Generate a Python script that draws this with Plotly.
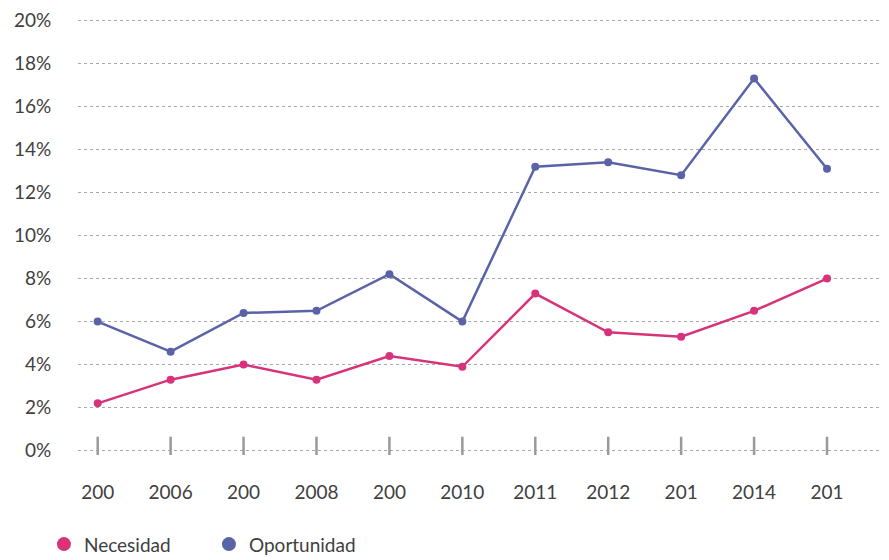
import plotly.graph_objects as go

years = [2005, 2006, 2007, 2008, 2009, 2010, 2011, 2012, 2013, 2014, 2015]
tick_labels = ["200", "2006", "200", "2008", "200", "2010", "2011", "2012", "201", "2014", "201"]
necesidad = [2.2, 3.3, 4.0, 3.3, 4.4, 3.9, 7.3, 5.5, 5.3, 6.5, 8.0]
oportunidad = [6.0, 4.6, 6.4, 6.5, 8.2, 6.0, 13.2, 13.4, 12.8, 17.3, 13.1]
y_ticks = [0, 2, 4, 6, 8, 10, 12, 14, 16, 18, 20]
y_tick_labels = [f"{v}%" for v in y_ticks]

PINK = "#d8337a"
BLUE = "#5a63a8"
GRID = "#a8a8a8"
TEXT = "#404040"

xs = list(range(len(years)))

fig = go.Figure()
# tick marks crossing the zero line
fig.add_trace(go.Scatter(
    x=xs, y=[0] * len(xs), mode="markers", showlegend=False, hoverinfo="skip",
    marker=dict(symbol="line-ns", size=20, line=dict(color="#9a9a9a", width=2.5)),
))
fig.add_trace(go.Scatter(
    x=xs, y=oportunidad, mode="lines+markers", showlegend=False,
    line=dict(color=BLUE, width=2.5), marker=dict(color=BLUE, size=8),
))
fig.add_trace(go.Scatter(
    x=xs, y=necesidad, mode="lines+markers", showlegend=False,
    line=dict(color=PINK, width=2.5), marker=dict(color=PINK, size=8),
))
# legend-only entries
fig.add_trace(go.Scatter(x=[None], y=[None], mode="markers", name="Necesidad",
                         marker=dict(color=PINK, size=14)))
fig.add_trace(go.Scatter(x=[None], y=[None], mode="markers", name="Oportunidad",
                         marker=dict(color=BLUE, size=14)))

fig.update_layout(
    width=881, height=552,
    margin=dict(l=70, r=0, t=8, b=105, autoexpand=False),
    paper_bgcolor="white", plot_bgcolor="white",
    font=dict(family="Lato, Open Sans, sans-serif", size=19, color=TEXT),
    showlegend=True,
    legend=dict(orientation="h", x=-0.042, xanchor="left", y=-0.16, yanchor="top",
                font=dict(size=19, color=TEXT), itemwidth=30,
                entrywidth=120, entrywidthmode="pixels"),
    xaxis=dict(
        range=[-0.27, 10.85], tickmode="array", tickvals=xs, ticktext=tick_labels,
        showgrid=False, zeroline=False, showline=False, automargin=False,
        ticks="outside", ticklen=20, tickcolor="rgba(0,0,0,0)",
        ticklabeloverflow="allow",
    ),
    yaxis=dict(
        range=[-0.2, 20.2], tickmode="array", tickvals=y_ticks, ticktext=y_tick_labels,
        showgrid=True, gridcolor=GRID, gridwidth=1.3, griddash="dot",
        zeroline=False, showline=False, automargin=False,
        ticks="outside", ticklen=22, tickcolor="rgba(0,0,0,0)",
        ticklabeloverflow="allow",
    ),
)

fig.write_html("out.html")
